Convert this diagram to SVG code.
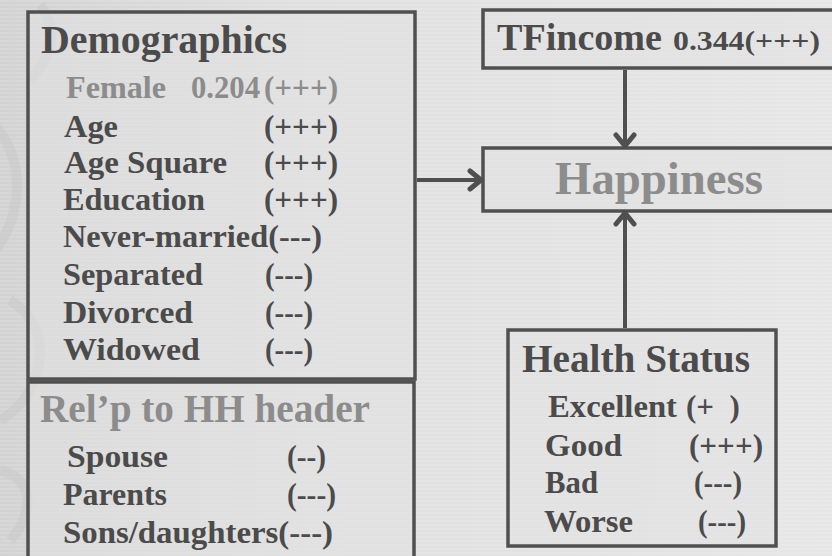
<svg xmlns="http://www.w3.org/2000/svg" width="832" height="556" viewBox="0 0 832 556">
  <defs>
    <linearGradient id="bg" x1="0" y1="0" x2="1" y2="0">
      <stop offset="0" stop-color="#d2d2d2"/>
      <stop offset="0.35" stop-color="#dfdfdf"/>
      <stop offset="1" stop-color="#e6e6e6"/>
    </linearGradient>
    <pattern id="scan" width="4" height="4" patternUnits="userSpaceOnUse">
      <rect width="4" height="2" fill="#ffffff" opacity="0.12"/>
    </pattern>
    <marker id="arr" viewBox="0 0 20 24" refX="16" refY="12" markerWidth="20" markerHeight="24" markerUnits="userSpaceOnUse" orient="auto">
      <path d="M4,3 L15,12 L4,21" fill="none" stroke="#4f4f4f" stroke-width="5" stroke-linecap="round" stroke-linejoin="round"/>
    </marker>
    <style>
      .box { fill: #e2e2e2; fill-opacity: 0.55; stroke: #505050; stroke-width: 3.5; }
      .t { font-family: "Liberation Serif", "Times New Roman", serif; font-weight: bold; fill: #4b4b4b; }
      .g { fill: #8c8c8c; }
      .h { font-size: 39px; }
      .b { font-size: 31px; }
      .conn { stroke: #4f4f4f; stroke-width: 4; fill: none; marker-end: url(#arr); }
      .deco { fill: none; stroke: #c8c8c8; stroke-width: 10; opacity: 0.5; }
    </style>
  </defs>

  <rect width="832" height="556" fill="url(#bg)"/>
  <rect width="832" height="556" fill="url(#scan)"/>
  <g id="decor">
    <path class="deco" d="M-10,120 C30,160 20,220 -5,250"/>
    <path class="deco" d="M10,300 C60,330 40,400 0,420"/>
    <path class="deco" d="M40,5 C60,30 50,60 30,80"/>
    <path class="deco" d="M0,470 C40,480 30,520 10,540"/>
  </g>

  <g id="demographics">
    <rect class="box" x="28" y="12" width="387" height="367"/>
    <text class="t h" x="41" y="53" textLength="246" lengthAdjust="spacingAndGlyphs">Demographics</text>
    <text class="t b g" x="66" y="98" textLength="100" lengthAdjust="spacingAndGlyphs">Female</text>
    <text class="t b g" x="191" y="98" textLength="69" lengthAdjust="spacingAndGlyphs">0.204</text>
    <text class="t b g" x="264" y="98" textLength="74" lengthAdjust="spacingAndGlyphs">(+++)</text>
    <text class="t b" x="64" y="137" textLength="54" lengthAdjust="spacingAndGlyphs">Age</text>
    <text class="t b" x="264" y="137" textLength="74" lengthAdjust="spacingAndGlyphs">(+++)</text>
    <text class="t b" x="64" y="173" textLength="163" lengthAdjust="spacingAndGlyphs">Age Square</text>
    <text class="t b" x="264" y="173" textLength="74" lengthAdjust="spacingAndGlyphs">(+++)</text>
    <text class="t b" x="63" y="210" textLength="142" lengthAdjust="spacingAndGlyphs">Education</text>
    <text class="t b" x="264" y="210" textLength="74" lengthAdjust="spacingAndGlyphs">(+++)</text>
    <text class="t b" x="63" y="247" textLength="259" lengthAdjust="spacingAndGlyphs">Never-married(---)</text>
    <text class="t b" x="63" y="285" textLength="140" lengthAdjust="spacingAndGlyphs">Separated</text>
    <text class="t b" x="265" y="285" textLength="48" lengthAdjust="spacingAndGlyphs">(---)</text>
    <text class="t b" x="63" y="323" textLength="130" lengthAdjust="spacingAndGlyphs">Divorced</text>
    <text class="t b" x="265" y="323" textLength="48" lengthAdjust="spacingAndGlyphs">(---)</text>
    <text class="t b" x="63" y="360" textLength="137" lengthAdjust="spacingAndGlyphs">Widowed</text>
    <text class="t b" x="265" y="360" textLength="48" lengthAdjust="spacingAndGlyphs">(---)</text>
  </g>

  <g id="relp">
    <rect class="box" x="28" y="382" width="386" height="200"/>
    <text class="t h g" x="40" y="422" textLength="330" lengthAdjust="spacingAndGlyphs">Rel’p to HH header</text>
    <text class="t b" x="67" y="467" textLength="101" lengthAdjust="spacingAndGlyphs">Spouse</text>
    <text class="t b" x="287" y="467" textLength="39" lengthAdjust="spacingAndGlyphs">(--)</text>
    <text class="t b" x="63" y="505" textLength="104" lengthAdjust="spacingAndGlyphs">Parents</text>
    <text class="t b" x="287" y="505" textLength="49" lengthAdjust="spacingAndGlyphs">(---)</text>
    <text class="t b" x="63" y="543" textLength="270" lengthAdjust="spacingAndGlyphs">Sons/daughters(---)</text>
  </g>

  <g id="tfincome">
    <rect class="box" x="483" y="10" width="370" height="58"/>
    <text class="t" x="497" y="50" font-size="38" textLength="165" lengthAdjust="spacingAndGlyphs">TFincome</text>
    <text class="t" x="673" y="50" font-size="28" textLength="147" lengthAdjust="spacingAndGlyphs">0.344(+++)</text>
  </g>

  <g id="happiness">
    <rect class="box" x="483" y="148" width="370" height="63"/>
    <text class="t g" x="659" y="194" font-size="46" text-anchor="middle" textLength="208" lengthAdjust="spacingAndGlyphs">Happiness</text>
  </g>

  <g id="health">
    <rect class="box" x="508" y="330" width="268" height="216"/>
    <text class="t h" x="522" y="372" textLength="228" lengthAdjust="spacingAndGlyphs">Health Status</text>
    <text class="t b" x="548" y="417" textLength="129" lengthAdjust="spacingAndGlyphs">Excellent</text>
    <text class="t b" x="686" y="417" xml:space="preserve">(+  )</text>
    <text class="t b" x="545" y="456" textLength="77" lengthAdjust="spacingAndGlyphs">Good</text>
    <text class="t b" x="689" y="456" textLength="74" lengthAdjust="spacingAndGlyphs">(+++)</text>
    <text class="t b" x="545" y="493" textLength="53" lengthAdjust="spacingAndGlyphs">Bad</text>
    <text class="t b" x="694" y="493" textLength="48" lengthAdjust="spacingAndGlyphs">(---)</text>
    <text class="t b" x="544" y="532" textLength="89" lengthAdjust="spacingAndGlyphs">Worse</text>
    <text class="t b" x="698" y="532" textLength="48" lengthAdjust="spacingAndGlyphs">(---)</text>
  </g>

  <g id="connectors">
    <line class="conn" x1="417" y1="180" x2="482" y2="180"/>
    <line class="conn" x1="625" y1="70" x2="625" y2="147"/>
    <line class="conn" x1="625" y1="328" x2="625" y2="212"/>
  </g>
</svg>
